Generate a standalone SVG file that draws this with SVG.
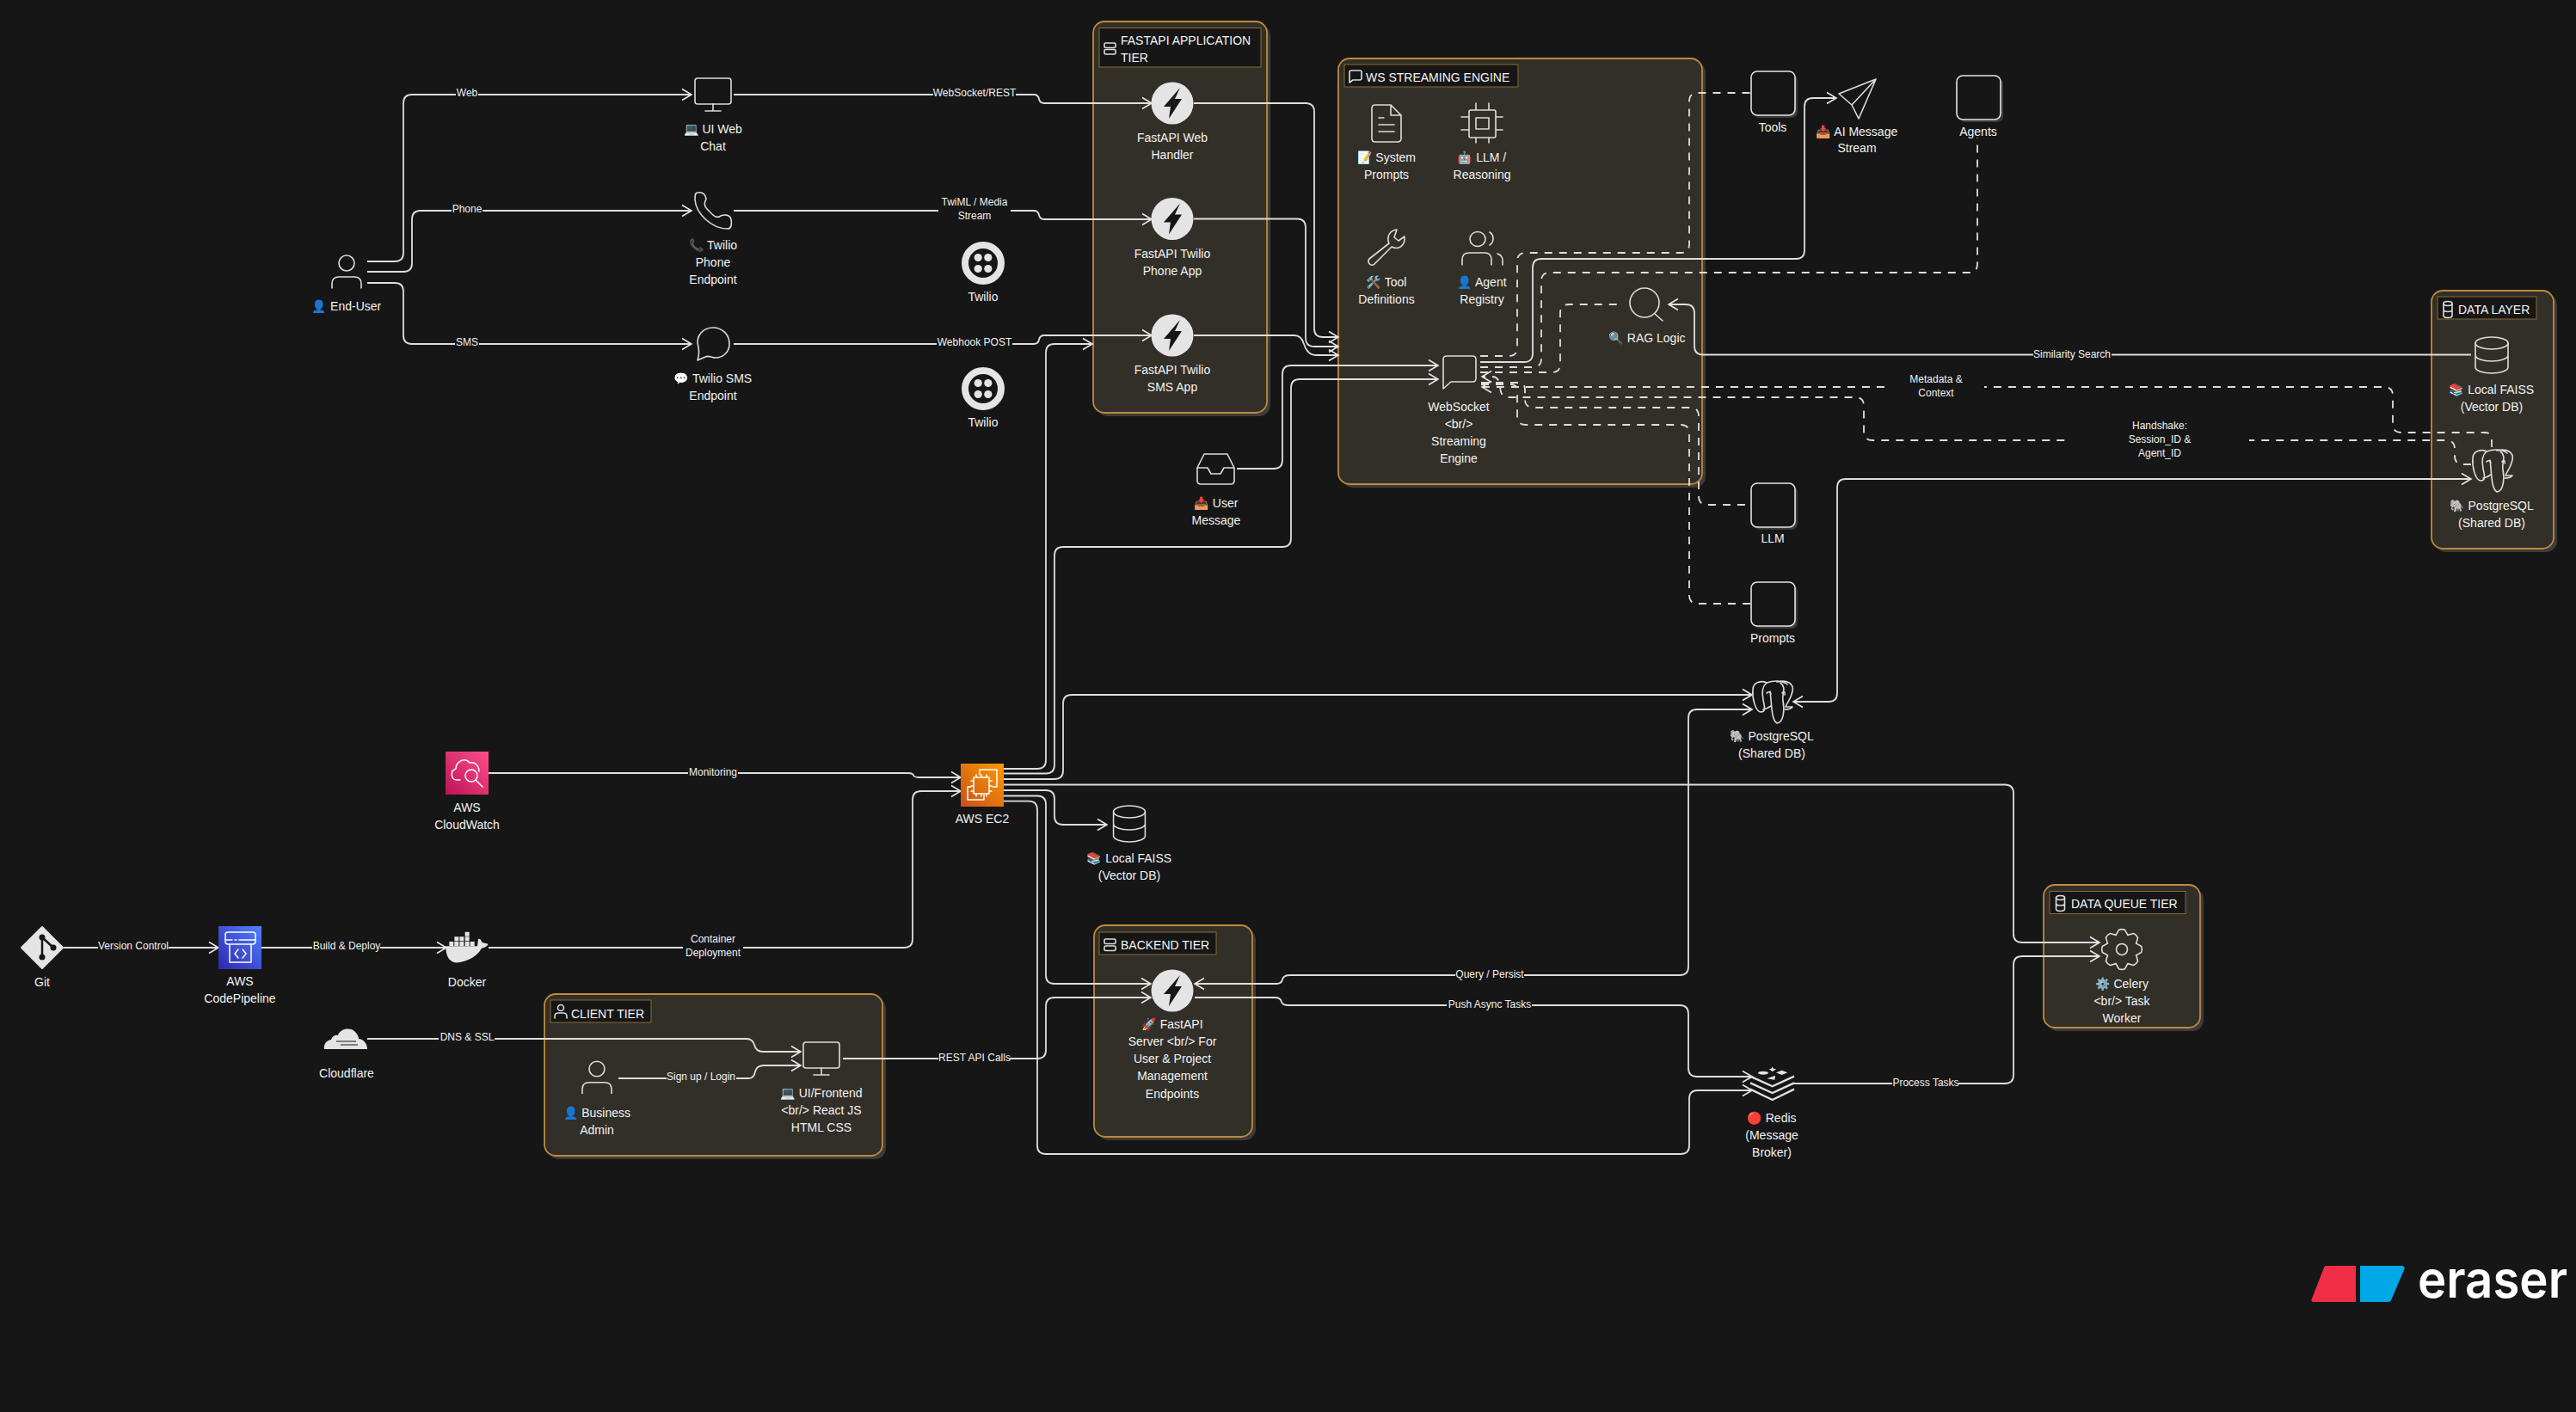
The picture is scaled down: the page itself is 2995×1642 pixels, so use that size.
<svg xmlns="http://www.w3.org/2000/svg" width="2995" height="1642" viewBox="0 0 2995 1642">
<style>
text{font-family:"Liberation Sans","Noto Color Emoji",Arial,sans-serif;fill:#f2f2f2;dominant-baseline:central}
.n{font-size:14px;text-anchor:middle}
.h{font-size:14px;fill:#f5f5f5}
.l{font-size:12px;text-anchor:middle}
.c{fill:none;stroke:#dedede;stroke-width:1.8}
.a{marker-end:url(#arr)}
.b{marker-start:url(#arr)}
.d{stroke-dasharray:9 8}
.i{fill:none;stroke:#dcdcdc;stroke-width:1.6;stroke-linecap:round;stroke-linejoin:round}
.ct{fill:#322f28;stroke:#bd8a3c;stroke-width:1.8}
.sh{fill:#3b3b3b}
.hd{fill:#161616;stroke:#8a6a33;stroke-width:1}
.bg{fill:#161616}
.bg2{fill:#322f28}
.sf{fill:#e4e4e4}
.dk{fill:#161616}
.w{fill:none;stroke:#fff;stroke-width:1.5;stroke-linecap:round;stroke-linejoin:round}
</style>
<defs>
<marker id="arr" markerUnits="userSpaceOnUse" viewBox="-12 -8 14 16" refX="0" refY="0" markerWidth="14" markerHeight="16" orient="auto-start-reverse" overflow="visible"><path d="M-11-6.5L0 0L-11 6.5" fill="none" stroke="#e6e6e6" stroke-width="1.6"/></marker>
<linearGradient id="gE" x1="0" y1="1" x2="1" y2="0"><stop offset="0" stop-color="#c8511b"/><stop offset="1" stop-color="#f90"/></linearGradient>
<linearGradient id="gC" x1="0" y1="1" x2="1" y2="0"><stop offset="0" stop-color="#bc1356"/><stop offset="1" stop-color="#ff4f8b"/></linearGradient>
<linearGradient id="gP" x1="0" y1="1" x2="1" y2="0"><stop offset="0" stop-color="#2e27ad"/><stop offset="1" stop-color="#527fff"/></linearGradient>
<g id="bolt"><circle r="24.5" class="sf"/><path class="dk" d="M9-18L-10 4H-2L-4 18L11-5H3Z"/></g>
<g id="twilio"><circle r="21" fill="none" stroke="#e4e4e4" stroke-width="8"/><circle cx="-5.8" cy="-6.5" r="4.6" class="sf"/><circle cx="5.8" cy="-6.5" r="4.6" class="sf"/><circle cx="-5.8" cy="6.5" r="4.6" class="sf"/><circle cx="5.8" cy="6.5" r="4.6" class="sf"/></g>
<g id="pg" class="i"><path d="M1 10C1 1 11-1 17 2C12 6 11 12 13 22C15 31 16 36 10 36C4 35 0 20 1 10Z"/><path d="M17 2C25-1 35-1 41 4M29 1C41-2 49 3 47 12C45 22 41 24 39 30H47C45 33 41 33 38 33"/><path d="M21 12C23 25 22 45 29 49C37 48 38 33 36 23C34 15 41 8 33 2"/><path d="M17 14Q21 11 22 15M35 14Q39 11 38 16M13 33Q18 32 22 29"/></g>
<g id="cyl" class="i"><ellipse cx="0" cy="7" rx="19" ry="7"/><path d="M-19 7V35A19 7 0 0 0 19 35V7M-19 21A19 7 0 0 0 19 21"/></g>
<path id="tooth" d="M-6.9-16.6L-3.5-22.7Q0-24 3.5-22.7L6.9-16.6"/>
<g id="monitor" class="i"><rect x="-21" y="0" width="42" height="30" rx="3"/><path d="M0 30V38M-9 38H9"/></g>
<g id="person" class="i"><circle cx="0" cy="0" r="9"/><path d="M-17 29V24Q-17 16-9 16H9Q17 16 17 24V29"/></g>
<g id="box"><rect x="3" y="3" width="51" height="51" rx="7" class="sh"/><rect width="51" height="51" rx="7" fill="#161616" stroke="#e4e4e4" stroke-width="1.6"/></g>
</defs>
<rect width="2995" height="1642" fill="#161616"/>

<g id="fastapi-tier"><rect x="1275" y="29" width="202" height="455" rx="13" class="sh"/><rect x="1271" y="25" width="202" height="455" rx="13" class="ct"/><rect x="1278" y="32.500" width="188" height="45.500" class="hd"/><g class="i"><rect x="1284" y="50" width="13" height="5.500" rx="1.500"/><rect x="1284" y="57.500" width="13" height="5.500" rx="1.500"/></g><text x="1303" y="47" class="h">FASTAPI APPLICATION</text><text x="1303" y="66.500" class="h">TIER</text></g>
<g id="ws-tier"><rect x="1560" y="72" width="423" height="495" rx="13" class="sh"/><rect x="1556" y="68" width="423" height="495" rx="13" class="ct"/><rect x="1563" y="75" width="202" height="26" class="hd"/><path class="i" d="M1571 82H1581Q1583 82 1583 84V91Q1583 93 1581 93H1573L1569 96V84Q1569 82 1571 82Z"/><text x="1588" y="89.500" class="h">WS STREAMING ENGINE</text></g>
<g id="data-layer"><rect x="2831" y="342" width="142" height="300" rx="13" class="sh"/><rect x="2827" y="338" width="142" height="300" rx="13" class="ct"/><rect x="2834" y="345" width="115" height="26" class="hd"/><g class="i"><ellipse cx="2846" cy="353" rx="5" ry="2.500"/><path d="M2841 353V367A5 2.500 0 0 0 2851 367V353M2841 360A5 2.500 0 0 0 2851 360"/></g><text x="2858" y="360" class="h">DATA LAYER</text></g>
<g id="backend-tier"><rect x="1276" y="1080" width="184" height="246" rx="13" class="sh"/><rect x="1272" y="1076" width="184" height="246" rx="13" class="ct"/><rect x="1278" y="1084" width="136" height="26" class="hd"/><g class="i"><rect x="1284" y="1092" width="13" height="5.500" rx="1.500"/><rect x="1284" y="1100" width="13" height="5.500" rx="1.500"/></g><text x="1303" y="1099" class="h">BACKEND TIER</text></g>
<g id="client-tier"><rect x="637" y="1160" width="393" height="188" rx="13" class="sh"/><rect x="633" y="1156" width="393" height="188" rx="13" class="ct"/><rect x="640" y="1163" width="117" height="26" class="hd"/><g class="i"><circle cx="652" cy="1172" r="3.500"/><path d="M645 1184V1182Q645 1178 649 1178H655Q659 1178 659 1182V1184"/></g><text x="664" y="1178.500" class="h">CLIENT TIER</text></g>
<g id="queue-tier"><rect x="2380" y="1033" width="182" height="166" rx="13" class="sh"/><rect x="2376" y="1029" width="182" height="166" rx="13" class="ct"/><rect x="2383" y="1036.500" width="158" height="26" class="hd"/><g class="i"><ellipse cx="2395.500" cy="1044" rx="5" ry="2.500"/><path d="M2390.500 1044V1057A5 2.500 0 0 0 2400.500 1057V1044M2390.500 1050.500A5 2.500 0 0 0 2400.500 1050.500"/></g><text x="2408" y="1051" class="h">DATA QUEUE TIER</text></g>

<g id="connectors">
<path class="c a" d="M427 304H459Q469 304 469 294V120Q469 110 479 110H804"/>
<path class="c a" d="M427 316H469Q479 316 479 306V255Q479 245 489 245H804"/>
<path class="c a" d="M427 329H459Q469 329 469 339V390Q469 400 479 400H804"/>
<path class="c a" d="M853 110H1202Q1207 110 1208 115Q1209 120 1214 120H1339"/>
<path class="c a" d="M853 245H1202Q1207 245 1208 250Q1209 255 1214 255H1339"/>
<path class="c a" d="M853 400H1202Q1207 400 1208 395Q1209 390 1214 390H1339"/>
<path class="c a" d="M1388 120H1518Q1528 120 1528 130V382Q1528 392 1538 392H1556"/>
<path class="c a" d="M1388 254.500H1508Q1518 254.500 1518 264V393Q1518 403 1528 403H1556"/>
<path class="c a" d="M1388 390H1505Q1513 390 1516 400Q1520 413 1530 413H1556"/>
<path class="c d" d="M1721 414H1754Q1764 414 1764 404V304Q1764 294 1774 294H1954Q1964 294 1964 284V118Q1964 108 1974 108H2036"/>
<path class="c a" d="M1721 421H1772Q1782 421 1782 411V311Q1782 301 1792 301H2088Q2098 301 2098 291V124Q2098 114 2108 114H2135"/>
<path class="c d" d="M1721 427H1782Q1792 427 1792 417V327Q1792 317 1802 317H2289Q2299 317 2299 307V160"/>
<path class="c d" d="M1721 433H1804Q1814 433 1814 423V364Q1814 354 1824 354H1886"/>
<path class="c a" d="M2873 412.500H1980Q1970 412.500 1970 402.500V364Q1970 354 1960 354H1940"/>
<path class="c d a" d="M2897 520V511Q2897 503 2889 503H2792Q2782 503 2782 493V460Q2782 450 2772 450H1723"/>
<path class="c d a" d="M2873 540H2864Q2854 540 2854 530V522Q2854 512 2844 512H2177Q2167 512 2167 502V472Q2167 462 2157 462H1752Q1745 462 1744 450Q1743 438 1735 438H1723"/>
<path class="c d" d="M1722 445H1765Q1773 445 1773 453V464Q1773 474 1783 474H1965Q1975 474 1975 484V577Q1975 587 1985 587H2036"/>
<path class="c d" d="M1722 447H1756Q1764 447 1764 455V484Q1764 494 1774 494H1954Q1964 494 1964 504V692Q1964 702 1974 702H2036"/>
<path class="c a b" d="M2085 816H2126Q2136 816 2136 806V567Q2136 557 2146 557H2873"/>
<path class="c a" d="M1167 894H1206Q1216 894 1216 884V410Q1216 400 1226 400H1270"/>
<path class="c a" d="M1167 899.500H1216Q1226 899.500 1226 889.500V646Q1226 636 1236 636H1491Q1501 636 1501 626V451Q1501 441 1511 441H1672"/>
<path class="c a" d="M1167 906H1226Q1236 906 1236 896V818Q1236 808 1246 808H2037"/>
<path class="c a" d="M1167 912.500H2331Q2341 912.500 2341 922.500V1086Q2341 1096 2351 1096H2441"/>
<path class="c a" d="M1167 919H1216Q1226 919 1226 929V949Q1226 959 1236 959H1287"/>
<path class="c a" d="M1167 925.500H1206Q1216 925.500 1216 935.500V1134Q1216 1144 1226 1144H1338"/>
<path class="c a" d="M1167 931.700H1196Q1206 931.700 1206 942V1332Q1206 1342 1216 1342H1954Q1964 1342 1964 1332V1278Q1964 1268 1974 1268H2037"/>
<path class="c a" d="M1438 545H1481Q1491 545 1491 535V435Q1491 425 1501 425H1672"/>
<path class="c a b" d="M2037 825H1973Q1963 825 1963 835V1124Q1963 1134 1953 1134H1500Q1492 1134 1491 1139Q1490 1144 1484 1144H1389"/>
<path class="c a" d="M1389 1160H1482Q1489 1160 1490 1165Q1491 1169 1498 1169H1953Q1963 1169 1963 1179V1242Q1963 1252 1973 1252H2037"/>
<path class="c a" d="M2086 1260H2331Q2341 1260 2341 1250V1122Q2341 1112 2351 1112H2441"/>
<path class="c a" d="M568 899H1056Q1061 899 1062 901.500Q1063 904 1068 904H1117"/>
<path class="c a" d="M568 1102H1051Q1061 1102 1061 1092V930Q1061 920 1071 920H1117"/>
<path class="c a" d="M980 1231H1206Q1216 1231 1216 1221V1170Q1216 1160 1226 1160H1338"/>
<path class="c a" d="M427 1208H868Q875 1208 877 1215Q879 1223 887 1223H931"/>
<path class="c a" d="M719 1254H870Q877 1254 878 1246Q880 1239 888 1239H931"/>
<path class="c a" d="M74 1102H254"/>
<path class="c a" d="M304 1102H519"/>
<g id="connector-labels">
<rect x="530" y="100" width="26" height="16" class="bg"/><text x="543" y="108" class="l">Web</text>
<rect x="525" y="235" width="36" height="16" class="bg"/><text x="543" y="243" class="l">Phone</text>
<rect x="529" y="390" width="28" height="16" class="bg"/><text x="543" y="398" class="l">SMS</text>
<rect x="1085" y="100" width="96" height="16" class="bg"/><text x="1133" y="108" class="l">WebSocket/REST</text>
<rect x="1091" y="227" width="84" height="32" class="bg"/><text x="1133" y="235" class="l">TwiML / Media</text><text x="1133" y="251" class="l">Stream</text>
<rect x="1089" y="390" width="88" height="16" class="bg"/><text x="1133" y="398" class="l">Webhook POST</text>
<rect x="2364" y="404" width="91" height="16" class="bg"/><text x="2409" y="412" class="l">Similarity Search</text>
<rect x="2195" y="433" width="112" height="32" class="bg"/><text x="2251" y="441" class="l">Metadata &amp;</text><text x="2251" y="457" class="l">Context</text>
<rect x="2406" y="487" width="209" height="48" class="bg"/><text x="2511" y="495" class="l">Handshake:</text><text x="2511" y="511" class="l">Session_ID &amp;</text><text x="2511" y="527" class="l">Agent_ID</text>
<rect x="800" y="890" width="58" height="16" class="bg"/><text x="829" y="898" class="l">Monitoring</text>
<rect x="794" y="1084" width="70" height="32" class="bg"/><text x="829" y="1092" class="l">Container</text><text x="829" y="1108" class="l">Deployment</text>
<rect x="114" y="1092" width="82" height="16" class="bg"/><text x="155" y="1100" class="l">Version Control</text>
<rect x="363" y="1092" width="79" height="16" class="bg"/><text x="403" y="1100" class="l">Build &amp; Deploy</text>
<rect x="510" y="1198" width="65" height="16" class="bg"/><text x="543" y="1206" class="l">DNS &amp; SSL</text>
<rect x="775" y="1244" width="81" height="16" class="bg2"/><text x="815" y="1252" class="l">Sign up / Login</text>
<rect x="1091" y="1222" width="83" height="16" class="bg"/><text x="1133" y="1230" class="l">REST API Calls</text>
<rect x="1692" y="1125" width="80" height="16" class="bg"/><text x="1732" y="1133" class="l">Query / Persist</text>
<rect x="1682" y="1160" width="99" height="16" class="bg"/><text x="1732" y="1168" class="l">Push Async Tasks</text>
<rect x="2200" y="1251" width="77" height="16" class="bg"/><text x="2239" y="1259" class="l">Process Tasks</text>
</g>
</g>

<g id="end-user"><use href="#person" transform="translate(403 306)"/><text x="403" y="356" class="n">👤 End-User</text></g>
<g id="ui-web-chat"><use href="#monitor" transform="translate(829 91)"/><text x="829" y="150" class="n">💻 UI Web</text><text x="829" y="170" class="n">Chat</text></g>
<g id="twilio-phone"><path class="i" d="M811 224C808 224 808 228 808 232C809 248 827 266 846 266C850 266 851 262 850 255C849 250 843 249 838 251C835 253 832 253 829 250C825 246 821 243 820 240C818 236 820 235 821 231C820 226 817 223 811 224Z"/><text x="829" y="285" class="n">📞 Twilio</text><text x="829" y="305" class="n">Phone</text><text x="829" y="325" class="n">Endpoint</text></g>
<g id="twilio-sms"><path class="i" d="M829 381C840 381 848 389 848 400C848 410 840 416 832 416C828 416 824 413 820 415L811 419C813 412 813 408 812 404C808 390 818 381 829 381Z"/><text x="829" y="440" class="n">💬 Twilio SMS</text><text x="829" y="460" class="n">Endpoint</text></g>
<g id="twilio-1"><use href="#twilio" transform="translate(1143 306)"/><text x="1143" y="345" class="n">Twilio</text></g>
<g id="twilio-2"><use href="#twilio" transform="translate(1143 452)"/><text x="1143" y="491" class="n">Twilio</text></g>
<g id="fastapi-web"><use href="#bolt" transform="translate(1363 120)"/><text x="1363" y="160" class="n">FastAPI Web</text><text x="1363" y="180" class="n">Handler</text></g>
<g id="fastapi-phone"><use href="#bolt" transform="translate(1363 254.500)"/><text x="1363" y="294.500" class="n">FastAPI Twilio</text><text x="1363" y="315" class="n">Phone App</text></g>
<g id="fastapi-sms"><use href="#bolt" transform="translate(1363 390)"/><text x="1363" y="429.500" class="n">FastAPI Twilio</text><text x="1363" y="450" class="n">SMS App</text></g>
<g id="system-prompts"><path class="i" d="M1595 126Q1595 122 1599 122H1617L1629 134V161Q1629 165 1625 165H1599Q1595 165 1595 161ZM1617 122V134H1629M1603 137H1609M1603 145H1621M1603 153H1621"/><text x="1612" y="183" class="n">📝 System</text><text x="1612" y="203" class="n">Prompts</text></g>
<g id="llm-reasoning"><path class="i" d="M1710 128H1737Q1739 128 1739 130V158Q1739 160 1737 160H1710Q1708 160 1708 158V130Q1708 128 1710 128ZM1716 137H1731V150H1716ZM1716 120V128M1731 120V128M1716 160V166M1731 160V166M1699 136H1708M1699 151H1708M1739 136H1747M1739 151H1747"/><text x="1723" y="183" class="n">🤖 LLM /</text><text x="1723" y="203" class="n">Reasoning</text></g>
<g id="tool-definitions"><path class="i" d="M1624 267C1615 268 1612 276 1615 283L1592 301C1589 305 1594 311 1598 307L1618 287C1626 291 1634 286 1633 275L1626 280L1621 276Z"/><text x="1612" y="328" class="n">🛠️ Tool</text><text x="1612" y="348" class="n">Definitions</text></g>
<g id="agent-registry"><ellipse cx="1718" cy="278" rx="9" ry="8.500" class="i"/><path class="i" d="M1700 308V302Q1700 294 1708 294H1726Q1734 294 1734 302V308M1732 270A9 9 0 0 1 1732 285M1741 295Q1747 297 1747 303V308"/><text x="1723" y="328" class="n">👤 Agent</text><text x="1723" y="348" class="n">Registry</text></g>
<g id="rag-logic"><circle cx="1912" cy="352" r="17" class="i"/><path class="i" d="M1924 365L1933 373"/><text x="1915" y="393" class="n">🔍 RAG Logic</text></g>
<g id="ws-engine"><path class="i" d="M1682 414H1712Q1716 414 1716 418V440Q1716 444 1712 444H1687L1678 452V418Q1678 414 1682 414Z"/><text x="1696" y="473" class="n">WebSocket</text><text x="1696" y="493" class="n">&lt;br/&gt;</text><text x="1696" y="513" class="n">Streaming</text><text x="1696" y="533" class="n">Engine</text></g>
<g id="user-message"><path class="i" d="M1400 528H1427L1435 544V559Q1435 563 1431 563H1396Q1392 563 1392 559V544ZM1392 544H1404L1408 551H1419L1423 544H1435"/><text x="1414" y="584.500" class="n">📥 User</text><text x="1414" y="604.500" class="n">Message</text></g>
<g id="tools"><use href="#box" transform="translate(2036 83)"/><text x="2061" y="148" class="n">Tools</text></g>
<g id="ai-message"><path class="i" d="M2181 92L2138 109L2153 122L2161 138ZM2181 92L2153 122"/><text x="2159" y="153" class="n">📥 AI Message</text><text x="2159" y="172" class="n">Stream</text></g>
<g id="agents"><use href="#box" transform="translate(2275 88)"/><text x="2300" y="153" class="n">Agents</text></g>
<g id="llm"><use href="#box" transform="translate(2036 562)"/><text x="2061" y="626" class="n">LLM</text></g>
<g id="prompts"><use href="#box" transform="translate(2036 677)"/><text x="2061" y="742" class="n">Prompts</text></g>
<g id="faiss-data"><use href="#cyl" transform="translate(2897 392)"/><text x="2897" y="453" class="n">📚 Local FAISS</text><text x="2897" y="473" class="n">(Vector DB)</text></g>
<g id="pg-data"><use href="#pg" transform="translate(2874 523)"/><text x="2897" y="588" class="n">🐘 PostgreSQL</text><text x="2897" y="608" class="n">(Shared DB)</text></g>
<g id="pg-shared"><use href="#pg" transform="translate(2037 792)"/><text x="2060" y="856" class="n">🐘 PostgreSQL</text><text x="2060" y="876" class="n">(Shared DB)</text></g>
<g id="ec2"><rect x="1117" y="888" width="50" height="50" fill="url(#gE)"/><path class="w" d="M1139 895H1159V915H1154M1125 915V930H1144V925M1132 904H1150V923H1132ZM1135 904V901M1141 904V901M1147 904V901M1135 923V926M1141 923V926M1147 923V926M1132 908H1129M1132 914H1129M1132 920H1129M1150 908H1153M1150 914H1153M1150 920H1153M1139 895V901M1125 915H1129"/><text x="1142" y="951.500" class="n">AWS EC2</text></g>
<g id="faiss-ec2"><use href="#cyl" transform="translate(1313 937) scale(.97 1)"/><text x="1313" y="998" class="n">📚 Local FAISS</text><text x="1313" y="1018" class="n">(Vector DB)</text></g>
<g id="cloudwatch"><rect x="518" y="874" width="50" height="50" fill="url(#gC)"/><path class="w" d="M535 907H531C524 907 523 896 530 894C530 886 540 880 546 887C552 886 557 890 557 897M553 907L561 915"/><circle cx="548" cy="902" r="7" class="w"/><text x="543" y="939" class="n">AWS</text><text x="543" y="959" class="n">CloudWatch</text></g>
<g id="git"><path d="M49 1078L73 1102L49 1126L25 1102Z" fill="#e4e4e4" stroke="#e4e4e4" stroke-width="2" stroke-linejoin="round"/><path d="M49 1090V1113M49 1090L62 1102" stroke="#161616" stroke-width="2.500" fill="none"/><circle cx="49" cy="1090" r="3.500" class="dk"/><circle cx="49" cy="1113" r="3.500" class="dk"/><circle cx="62" cy="1102" r="3.500" class="dk"/><text x="49" y="1142" class="n">Git</text></g>
<g id="codepipeline"><rect x="254" y="1077" width="50" height="50" fill="url(#gP)"/><path class="w" d="M265 1084H294Q297 1084 297 1087V1095Q297 1098 294 1098H265Q262 1098 262 1095V1087Q262 1084 265 1084ZM262 1093H270M273 1093H275M278 1093H297M267 1098V1119H292V1098M277 1104L273 1109L277 1114M282 1104L286 1109L282 1114"/><text x="279" y="1141" class="n">AWS</text><text x="279" y="1161" class="n">CodePipeline</text></g>
<g id="docker"><g transform="translate(500 1060) scale(.3333)" class="sf"><path d="M55 121H165L168 96Q175 92 182 108L203 113Q198 125 180 128C160 165 110 180 85 178C60 170 55 145 55 121Z"/><path d="M67 105h15v15h-15zM85 105h15v15h-15zM103 105h15v15h-15zM122 105h15v15h-15zM140 105h15v15h-15zM85 88h15v15h-15zM103 88h15v15h-15zM122 88h15v15h-15zM122 71h15v15h-15z"/></g><text x="543" y="1142" class="n">Docker</text></g>
<g id="cloudflare"><path class="sf" d="M377 1220C376 1215 379 1210 385 1209C386 1205 390 1203 393 1204C395 1196 408 1194 413 1200C416 1203 417 1206 417 1208C422 1208 427 1213 427 1220Z"/><path d="M391 1211H414M396 1215H416" stroke="#161616" stroke-width="1.200"/><text x="403" y="1248" class="n">Cloudflare</text></g>
<g id="business-admin"><use href="#person" transform="translate(694 1243) scale(1 .98)"/><text x="694" y="1294" class="n">👤 Business</text><text x="694" y="1314" class="n">Admin</text></g>
<g id="ui-frontend"><use href="#monitor" transform="translate(955 1212)"/><text x="955" y="1271" class="n">💻 UI/Frontend</text><text x="955" y="1291" class="n">&lt;br/&gt; React JS</text><text x="955" y="1311" class="n">HTML CSS</text></g>
<g id="fastapi-server"><use href="#bolt" transform="translate(1363 1152)"/><text x="1363" y="1191" class="n">🚀 FastAPI</text><text x="1363" y="1211" class="n">Server &lt;br/&gt; For</text><text x="1363" y="1231" class="n">User &amp; Project</text><text x="1363" y="1251" class="n">Management</text><text x="1363" y="1271.500" class="n">Endpoints</text></g>
<g id="redis"><g transform="translate(2010 1230) scale(.3333)"><path d="M75 65L152 100L228 65M75 88L152 123L228 88M75 110L152 147L228 110" fill="none" stroke="#e0e0e0" stroke-width="7"/><ellipse cx="120" cy="53" rx="18" ry="6" class="sf"/><path class="sf" d="M152 32L156 38L166 40L158 44L152 49L147 44L140 40L148 38ZM185 44L205 52L185 60L165 52ZM133 73L162 62L160 77Z"/></g><text x="2060" y="1300" class="n">🔴 Redis</text><text x="2060" y="1320" class="n">(Message</text><text x="2060" y="1340" class="n">Broker)</text></g>
<g id="celery"><g class="i" transform="translate(2467 1104)"><use href="#tooth"/><use href="#tooth" transform="rotate(45)"/><use href="#tooth" transform="rotate(90)"/><use href="#tooth" transform="rotate(135)"/><use href="#tooth" transform="rotate(180)"/><use href="#tooth" transform="rotate(225)"/><use href="#tooth" transform="rotate(270)"/><use href="#tooth" transform="rotate(315)"/><circle r="6.500"/></g><text x="2467" y="1144" class="n">⚙️ Celery</text><text x="2467" y="1164" class="n">&lt;br/&gt; Task</text><text x="2467" y="1183.500" class="n">Worker</text></g>
<g id="eraser-logo"><path fill="#f02e46" d="M2704 1472H2739V1514H2690Q2686 1514 2688 1510L2702 1474Q2703 1472 2704 1472Z"/><path fill="#00a8e8" d="M2744 1472H2792Q2797 1472 2795 1477L2780 1512Q2779 1514 2777 1514H2744Z"/><text x="2811" y="1509" font-size="60" font-weight="600" textLength="174" lengthAdjust="spacingAndGlyphs" style="font-family:Inter,'Liberation Sans',sans-serif;fill:#fff;dominant-baseline:auto">eraser</text></g>
</svg>
